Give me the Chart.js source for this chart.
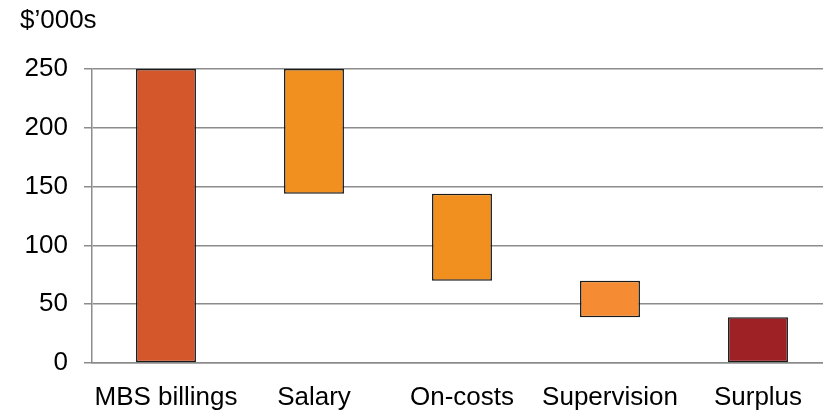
<!DOCTYPE html>
<html>
<head>
<meta charset="utf-8">
<script src="https://cdn.jsdelivr.net/npm/chart.js@4/dist/chart.umd.min.js"></script>
<style>
  html, body { margin: 0; padding: 0; background: #fff; overflow: hidden; }
  #wrap { width: 823px; height: 411px; position: relative; overflow: hidden; }
</style>
</head>
<body>
<div id="wrap"><canvas id="c" width="832" height="411"></canvas></div>
<script>
// Waterfall of GP income components, $'000s
const categories = ['MBS billings', 'Salary', 'On-costs', 'Supervision', 'Surplus'];
const barStart = [0, 144, 70, 39, 0];
const barEnd = [250, 250, 144, 70, 39];
const barColors = ['#D4572B', '#F2901F', '#F2901F', '#F58C33', '#9E2126'];
const yTicks = [0, 50, 100, 150, 200, 250];
const unitLabel = '$\u2019000s';

const floating = categories.map((_, i) => [barStart[i], barEnd[i]]);
const FONT = 'Liberation Sans, Arial, sans-serif';

const unitTitle = {
  id: 'unitTitle',
  afterDraw(chart) {
    const ctx = chart.ctx;
    ctx.save();
    ctx.font = '26px ' + FONT;
    ctx.fillStyle = '#000';
    ctx.textBaseline = 'middle';
    ctx.textAlign = 'left';
    ctx.fillText(unitLabel, 20, 21);
    ctx.restore();
  }
};

new Chart(document.getElementById('c'), {
  type: 'bar',
  data: {
    labels: categories,
    datasets: [{
      data: floating,
      backgroundColor: barColors,
      borderColor: '#1a1a1a',
      borderWidth: 1.5,
      borderSkipped: false,
      barPercentage: 0.405,
      categoryPercentage: 1.0
    }]
  },
  options: {
    responsive: false,
    animation: false,
    devicePixelRatio: 1,
    layout: { padding: { top: 69, right: 0, left: 0, bottom: 0 } },
    plugins: { legend: { display: false }, tooltip: { enabled: false } },
    scales: {
      x: {
        grid: { display: false, drawTicks: false },
        border: { display: true, color: '#8c8c8c', width: 1.5 },
        ticks: { color: '#000', font: { family: FONT, size: 26 }, padding: 19, maxRotation: 0 },
        afterFit(s) { s.height = 48; }
      },
      y: {
        min: 0, max: 250,
        afterBuildTicks(s) { s.ticks = yTicks.map(v => ({ value: v })); },
        grid: { color: '#8c8c8c', lineWidth: 1.5, tickLength: 8, drawTicks: true },
        border: { display: true, color: '#8c8c8c', width: 1.5 },
        ticks: { color: '#000', font: { family: FONT, size: 26 }, padding: 16 },
        afterFit(s) { s.width = 92; }
      }
    }
  },
  plugins: [unitTitle]
});
</script>
</body>
</html>
